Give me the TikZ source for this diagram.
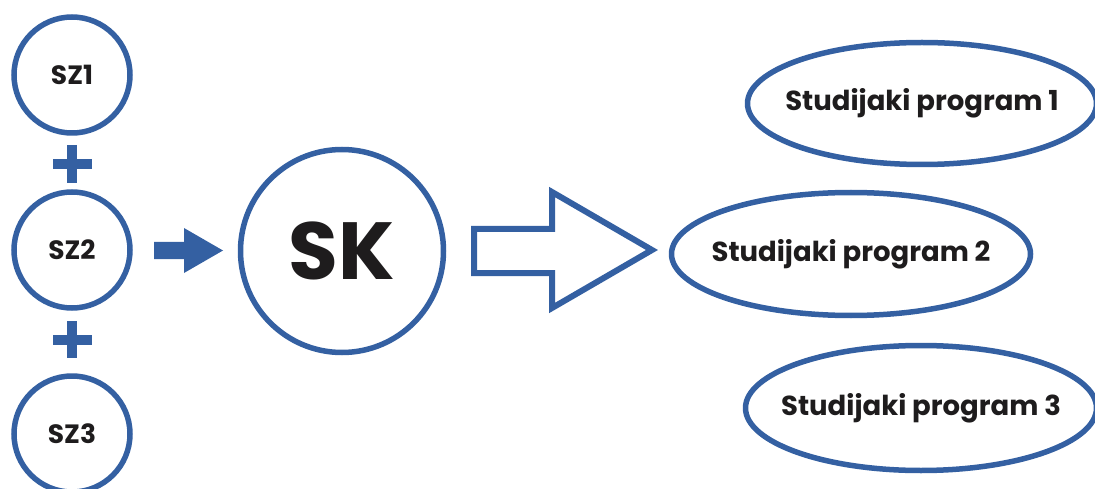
\documentclass[tikz,border=0pt]{standalone}
\usepackage{fontspec}
\setmainfont{Poppins}
\usetikzlibrary{shapes.geometric}
\definecolor{sdblue}{RGB}{52,96,162}
\definecolor{sdtext}{RGB}{30,28,29}
\tikzset{
  zone/.style={circle, draw=sdblue, line width=5.5pt, minimum size=116pt, inner sep=0pt,
    text=sdtext, font=\fontsize{26.5}{30}\selectfont\bfseries},
  prog/.style={ellipse, draw=sdblue, line width=5.5pt, inner sep=0pt,
    label={[text=sdtext, font=\fontsize{27.5}{32}\selectfont\bfseries]center:#1}},
  plus/.style={draw=sdblue, line width=10.5pt}
}

\begin{document}
\begin{tikzpicture}[x=1pt,y=-1pt]
	\useasboundingbox (0,0) rectangle (1095,489);
	
	\node[zone] (sz1) at (72,75) {SZ1};
	\node[zone] (sz2) at (72,250) {SZ2};
	\node[zone] (sz3) at (72,434) {SZ3};
	
	\draw[plus] (72,145) -- (72,183);
	\draw[plus] (53,164) -- (92,164);
	\draw[plus] (72,321) -- (72,358);
	\draw[plus] (53,340) -- (92,340);
	
	% filled arrow into SK
	\draw[fill=sdblue, draw=none] (154,242) -- (184,242) -- (184,228) -- (223,250.5)
		-- (184,273) -- (184,259) -- (154,259) -- cycle;
	
	\node[circle, draw=sdblue, line width=5.5pt, minimum size=203pt, inner sep=0pt,
		text=sdtext, font=\fontsize{81}{86}\selectfont\bfseries] (sk) at (342,251) {SK};
	
	% hollow arrow out of SK
	\draw[draw=sdblue, line width=6pt, miter limit=10] (474,229) -- (552,229) -- (552,192)
		-- (652,250) -- (552,308) -- (552,273) -- (474,273) -- cycle;
	
	\node[prog={Studijaki program 1}, minimum width=349pt, minimum height=122pt] (sp1) at (922,103.5) {};
	\node[prog={Studijaki program 2}, minimum width=359pt, minimum height=123pt] (sp2) at (851,254) {};
	\node[prog={Studijaki program 3}, minimum width=351pt, minimum height=125pt] (sp3) at (921,408) {};
\end{tikzpicture}
\end{document}
